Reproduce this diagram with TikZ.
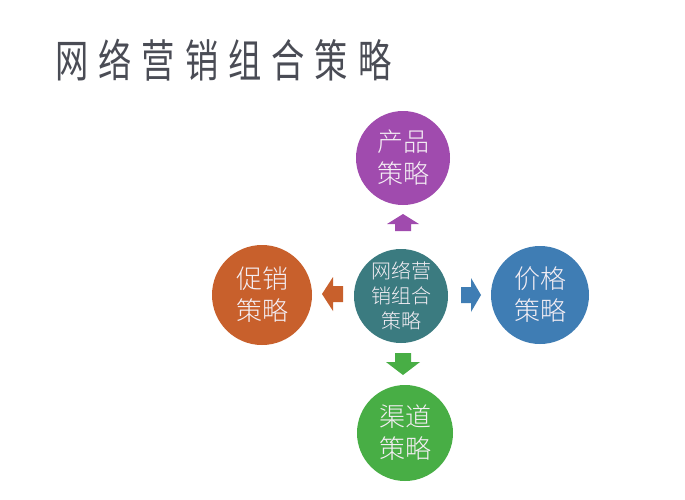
\documentclass[tikz,border=0pt]{standalone}
\usepackage{fontspec}
\setmainfont{Liberation Sans}
\newfontfamily\cjk{Noto Sans CJK SC}
\newfontfamily\cjklight{Noto Sans CJK SC Light}
\definecolor{cpurple}{HTML}{A04BAE}
\definecolor{corange}{HTML}{C8602C}
\definecolor{cteal}{HTML}{3B7B80}
\definecolor{cblue}{HTML}{3F7DB4}
\definecolor{cgreen}{HTML}{48AE45}
\definecolor{ctitle}{HTML}{4A4C55}
\definecolor{ctext}{HTML}{F4EEF4}
\newcommand\tgap{\hspace{13.5pt}}
\begin{document}
\begin{tikzpicture}[x=1pt,y=-1pt,
  ball/.style={circle,minimum size=96pt,inner sep=0pt,text=ctext,align=center,
    font=\cjklight\fontsize{26}{32}\selectfont}]
\useasboundingbox (0,0) rectangle (685,499);
\fill[white] (0,0) rectangle (685,499);
\node[anchor=west,text=ctitle,font=\cjk\fontsize{45}{47}\selectfont,xscale=0.74,inner sep=0pt] (title) at (55,60) {网\tgap 络\tgap 营\tgap 销\tgap 组\tgap 合\tgap 策\tgap 略};
\node[ball,fill=cteal,minimum size=94pt,font=\cjklight\fontsize{20}{25}\selectfont] (c) at (401,296) {网络营\\销组合\\策略};
\node[ball,fill=cpurple,minimum size=94pt] (t) at (403,158) {产品\\策略};
\node[ball,fill=corange,minimum size=100pt] (l) at (262,295) {促销\\策略};
\node[ball,fill=cblue,minimum size=98pt] (r) at (540,295) {价格\\策略};
\node[ball,fill=cgreen,minimum size=96pt] (b) at (405,433) {渠道\\策略};
% up arrow
\fill[cpurple] (395,231) -- (395,224) -- (387,224) -- (403,214) -- (419,224) -- (411,224) -- (411,231) -- cycle;
% down arrow
\fill[cgreen] (395,353) -- (395,362) -- (386,362) -- (403,375) -- (420,362) -- (411,362) -- (411,353) -- cycle;
% left arrow
\fill[corange] (343,286) -- (333,286) -- (333,277) -- (322,294) -- (333,311) -- (333,302) -- (343,302) -- cycle;
% right arrow
\fill[cblue] (461,287) -- (471,287) -- (471,278) -- (481,295) -- (471,312) -- (471,303) -- (461,303) -- cycle;
\end{tikzpicture}
\end{document}
